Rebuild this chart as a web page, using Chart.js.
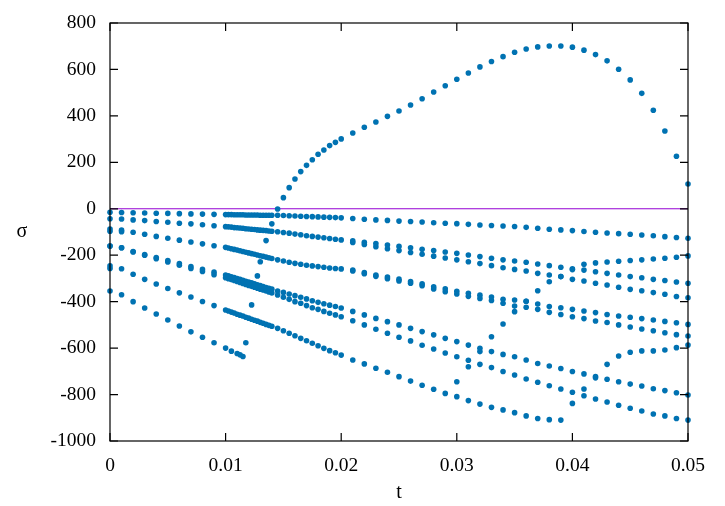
<!DOCTYPE html>
<html>
<head>
<meta charset="utf-8">
<script src="https://cdn.jsdelivr.net/npm/chart.js@4/dist/chart.umd.min.js"></script>
<style>
  html, body { margin: 0; padding: 0; background: #fff; }
  #wrap { width: 725px; height: 506px; }
</style>
</head>
<body>
<div id="wrap"><canvas id="myChart" width="725" height="506"></canvas></div>
<script>
// time steps (coarse, then the refined stretch around 0.01-0.02, then coarse again)
var t = [
  0, 0.001, 0.002, 0.003, 0.004, 0.005, 0.006, 0.007, 0.008, 0.009,
  0.01, 0.01025, 0.0105, 0.01075, 0.011, 0.01125, 0.0115, 0.01175, 0.012, 0.01225, 0.0125, 0.01275, 0.013, 0.01325, 0.0135, 0.01375, 0.014,
  0.0145, 0.015, 0.0155, 0.016, 0.0165, 0.017, 0.0175, 0.018, 0.0185, 0.019, 0.0195, 0.02,
  0.021, 0.022, 0.023, 0.024, 0.025, 0.026, 0.027, 0.028, 0.029, 0.03,
  0.031, 0.032, 0.033, 0.034, 0.035, 0.036, 0.037, 0.038, 0.039, 0.04,
  0.041, 0.042, 0.043, 0.044, 0.045, 0.046, 0.047, 0.048, 0.049, 0.05
];
var _ = null;

// sigma values, one array per branch
var s1 = [
  -15, -16, -17, -18, -19, -20, -21, -22, -23, -24,
  -25, -25, -25, -26, -26, -26, -26, -27, -27, -27, -27, -27, -28, -28, -28, -28, -28,
  -28, -29, -30, -31, -32, -33, -34, -35, -36, -37, -38, -39,
  -42, -45, -48, -50, -53, -55, -57, -60, -62, -64,
  -67, -70, -72, -74, -76, -80, -84, -88, -91, -94,
  -98, -101, -104, -107, -110, -113, -116, -120, -124, -127
];
var s2a = [
  -43, -44, -48, -51, -55, -58, -62, -65, -69, -73,
  -77, -78, -79, -81, -82, -83, -84, -86, -87, -88, -89, -91, -92, -93, -94, -96, -97,
  -99, -102, -105, -109, -112, -116, -119, -122, -125, -128, -131, -134,
  -138, -144, -150, -156, -162, -168, -174, -180, -186, -192,
  -199, -206, -213, -220, -225, -230, -238, -245, -252, -259,
  -264, -271, -278, -285, -292, -297, -304, -309, -315, -321
];
var s2b = [
  _, _, _, _, _, _, _, _, _, _,
  _, _, _, _, _, _, _, _, _, _, _, _, _, _, _, _, _,
  _, _, _, _, _, _, _, _, _, _, _, _,
  -145, -154, -163, -172, -180, -188, -196, -204, -212, -220,
  -228, -236, -245, -254, -261, -268, -278, -285, -292, -304,
  -311, -321, -328, -338, -347, -353, -361, -368, -378, -383
];
var s3a = [
  -87, -92, -101, -110, -119, -127, -135, -143, -151, -159,
  -166, -169, -172, -175, -178, -181, -184, -187, -190, -193, -196, -199, -202, -205, -208, -211, -214,
  -220, -225, -230, -235, -239, -243, -246, -249, -252, -255, -257, -259,
  -264, -275, -285, -294, -303, -313, -323, -336, -345, -355,
  -364, -372, -380, -390, -393, -398, -410, -421, -426, -433,
  -440, -447, -455, -462, -467, -473, -479, -485, -491, -498
];
var s3b = [
  _, _, _, _, _, _, _, _, _, _,
  _, _, _, _, _, _, _, _, _, _, _, _, _, _, _, _, _,
  _, _, _, _, _, _, _, _, _, _, _, _,
  -268, -280, -291, -301, -311, -321, -331, -345, -357, -367,
  -377, -386, -395, -407, -419, -424, -433, -446, -455, -465,
  -473, -483, -490, -500, -509, -518, -525, -534, -542, -548
];
var s4a = [
  -160, -168, -184, -197, -210, -223, -236, -249, -261, -273,
  -285, -289, -293, -296, -300, -304, -308, -312, -316, -319, -323, -327, -331, -335, -339, -342, -346,
  -354, -360, -367, -374, -381, -388, -396, -403, -409, -415, -421, -427,
  -442, -457, -472, -486, -500, -515, -529, -543, -558, -572,
  -587, -601, -615, -627, -637, -651, -666, -677, -688, -701,
  -711, -722, -734, -745, -755, -763, -775, -783, -792, -802
];
var s4b = [
  -160, -168, -186, -200, -215, -229, -243, -257, -270, -284,
  -297, -301, -305, -309, -313, -317, -322, -326, -330, -334, -338, -342, -346, -350, -354, -358, -363,
  -371, -381, -390, -400, -407, -417, -426, -433, -442, -450, -457, -465,
  -482, -500, -519, -536, -553, -569, -588, -604, -621, -637,
  -652, -670, -684, -701, -716, -733, -747, -762, -776, -790,
  -805, -819, -832, -846, -859, -871, -884, -892, -903, -910
];
var s5 = [
  -246, -258, -282, -304, -324, -343, -362, -380, -399, -417,
  -436, -440, -445, -449, -454, -458, -462, -467, -471, -476, -480, -484, -489, -493, -498, -502, -506,
  -515, -525, -536, -547, -558, -568, -579, -590, -601, -611, -620, -630,
  -651, -668, -687, -704, -723, -742, -760, -777, -795, -809,
  -826, -841, -855, -866, -878, -892, -903, -908, -910, -838,
  -776, -728, -670, -634, -618, -612, -612, -608, -598, -587
];
var sSwap = [
  _, _, _, _, _, _, _, _, _, _,
  _, _, _, _, _, _, _, _, _, _, _, _, _, _, _, _, _,
  _, _, _, _, _, _, _, _, _, _, _, _,
  _, _, _, _, _, _, _, _, _, -745,
  -680, -615, -551, -496, -443, -398, -353, -314, -292, -262,
  -239, -233, -229, -226, -223, -220, -216, -213, -209, -203
];
var sRise = [
  -354, -370, -400, -427, -453, -479, -505, -530, -553, -577,
  -600, _, -613, _, -623, -629, -636, -577, _, -414, _, -289, -228, _, -137, _, -65,
  -1, 48, 91, 128, 160, 187, 211, 235, 253, 272, 286, 301,
  326, 351, 374, 398, 421, 447, 474, 503, 530, 558,
  585, 611, 634, 655, 674, 688, 697, 701, 701, 696,
  683, 664, 637, 601, 555, 497, 424, 335, 226, 107
];
// extra points where two branches start almost on top of each other
var tStart = [0, 0, 0.001];
var sStart = [-97, -257, -99];

var xTicks = [0, 0.01, 0.02, 0.03, 0.04, 0.05];
var yTicks = [800, 600, 400, 200, 0, -200, -400, -600, -800, -1000];

var dotColor = '#0072b2';
var serif = "'Liberation Serif', 'DejaVu Serif', serif";

function toPoints(xs, ys) {
  var out = [];
  for (var i = 0; i < xs.length; i++) {
    if (ys[i] !== null) out.push({ x: xs[i], y: ys[i] });
  }
  return out;
}

var branches = [s1, s2a, s2b, s3a, s3b, s4a, s4b, s5, sSwap, sRise];
var datasets = branches.map(function (s) {
  return {
    type: 'scatter',
    data: toPoints(t, s),
    backgroundColor: dotColor,
    borderWidth: 0,
    pointRadius: 2.8,
    pointHoverRadius: 2.8,
    clip: false
  };
});
datasets.push({
  type: 'scatter',
  data: toPoints(tStart, sStart),
  backgroundColor: dotColor,
  borderWidth: 0,
  pointRadius: 2.8,
  clip: false
});
// sigma = 0 reference line
datasets.push({
  type: 'line',
  data: [{ x: xTicks[0], y: 0 }, { x: xTicks[xTicks.length - 1], y: 0 }],
  borderColor: '#9400d3',
  borderWidth: 1,
  pointRadius: 0
});

// gnuplot style box, inward ticks and axis names
var frame = {
  id: 'frame',
  afterDatasetsDraw: function (chart) {
    var ctx = chart.ctx, a = chart.chartArea;
    var xs = chart.scales.x, ys = chart.scales.y;
    var L = 8;
    ctx.save();
    ctx.strokeStyle = '#000';
    ctx.lineWidth = 1.2;
    ctx.strokeRect(a.left, a.top, a.right - a.left, a.bottom - a.top);
    ctx.beginPath();
    xTicks.forEach(function (v) {
      var px = xs.getPixelForValue(v);
      ctx.moveTo(px, a.bottom); ctx.lineTo(px, a.bottom - L);
      ctx.moveTo(px, a.top); ctx.lineTo(px, a.top + L);
    });
    yTicks.forEach(function (v) {
      var py = ys.getPixelForValue(v);
      ctx.moveTo(a.left, py); ctx.lineTo(a.left + L, py);
      ctx.moveTo(a.right, py); ctx.lineTo(a.right - L, py);
    });
    ctx.stroke();
    ctx.fillStyle = '#000';
    ctx.font = '20px ' + serif;
    ctx.textAlign = 'center';
    ctx.textBaseline = 'middle';
    ctx.fillText('\u03c3', 22, (a.top + a.bottom) / 2);
    ctx.fillText('t', (a.left + a.right) / 2, 493);
    ctx.restore();
  }
};

new Chart(document.getElementById('myChart'), {
  data: { datasets: datasets },
  options: {
    responsive: false,
    animation: false,
    layout: { padding: { top: 23, right: 37, left: 0, bottom: 0 } },
    plugins: { legend: { display: false }, tooltip: { enabled: false } },
    scales: {
      x: {
        type: 'linear',
        min: 0,
        max: 0.05,
        grid: { display: false },
        border: { display: false },
        afterFit: function (s) { s.height = 65; },
        afterBuildTicks: function (s) { s.ticks = xTicks.map(function (v) { return { value: v }; }); },
        ticks: {
          color: '#000',
          padding: 5,
          maxRotation: 0,
          font: { family: serif, size: 19.5 },
          callback: function (v) { return v === 0 ? '0' : v.toFixed(2); }
        }
      },
      y: {
        type: 'linear',
        min: -1000,
        max: 800,
        grid: { display: false },
        border: { display: false },
        afterFit: function (s) { s.width = 110; },
        afterBuildTicks: function (s) { s.ticks = yTicks.map(function (v) { return { value: v }; }); },
        ticks: {
          color: '#000',
          padding: 6,
          font: { family: serif, size: 19.5 },
          callback: function (v) { return String(v); }
        }
      }
    }
  },
  plugins: [frame]
});
</script>
</body>
</html>
